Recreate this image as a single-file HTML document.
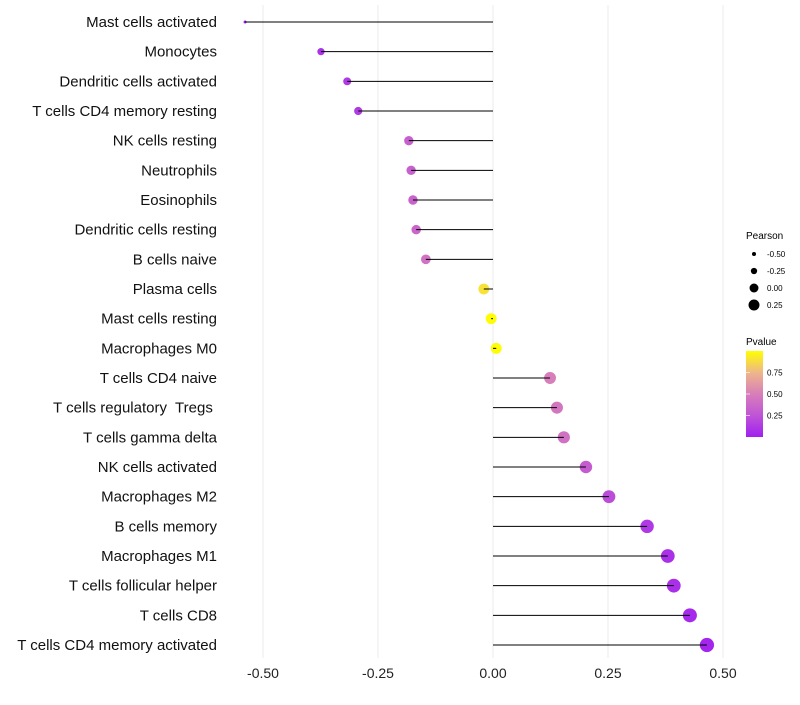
<!DOCTYPE html>
<html><head><meta charset="utf-8"><style>
body{margin:0;background:#fff;font-family:"Liberation Sans",sans-serif}
svg text{font-family:"Liberation Sans",sans-serif}
</style></head><body>
<svg id="chart" width="800" height="700" xmlns="http://www.w3.org/2000/svg">
<defs><linearGradient id="pg" x1="0" y1="1" x2="0" y2="0">
<stop offset="0" stop-color="#a020f0"/><stop offset="0.25" stop-color="#bf54d6"/><stop offset="0.5" stop-color="#d87eba"/><stop offset="0.75" stop-color="#eeb68a"/><stop offset="1" stop-color="#ffff00"/></linearGradient></defs>
<g id="grid"></g><g id="marks"></g><g id="labels"></g><g id="xticks"></g>
<g>
<text x="746" y="239" font-size="10">Pearson</text>
<g id="sizeleg"></g></g>
<g>
<text x="746" y="345" font-size="10">Pvalue</text>
<rect x="746" y="351" width="17" height="86" fill="url(#pg)"/>
<g id="cleg"></g></g>
</svg>
<script>
const categories=["Mast cells activated","Monocytes","Dendritic cells activated","T cells CD4 memory resting","NK cells resting","Neutrophils","Eosinophils","Dendritic cells resting","B cells naive","Plasma cells","Mast cells resting","Macrophages M0","T cells CD4 naive","T cells regulatory  Tregs ","T cells gamma delta","NK cells activated","Macrophages M2","B cells memory","Macrophages M1","T cells follicular helper","T cells CD8","T cells CD4 memory activated"];
const pearson=[-0.539,-0.374,-0.317,-0.293,-0.183,-0.178,-0.174,-0.167,-0.146,-0.020,-0.004,0.007,0.124,0.139,0.154,0.202,0.252,0.335,0.380,0.393,0.428,0.465];
const pvalue=[0.01,0.09,0.12,0.13,0.32,0.33,0.34,0.36,0.42,0.90,0.99,0.99,0.50,0.45,0.42,0.30,0.22,0.12,0.08,0.07,0.05,0.03];
const xTicks=[-0.5,-0.25,0,0.25,0.5];
const xTickLabels=["-0.50","-0.25","0.00","0.25","0.50"];
const sizeLegend=[-0.5,-0.25,0,0.25];
const sizeLegendLabels=["-0.50","-0.25","0.00","0.25"];
const colorTicks=[0.25,0.5,0.75];
const colorTickLabels=["0.25","0.50","0.75"];
const NS="http://www.w3.org/2000/svg";
const x=v=>493+v*460;
const y=i=>22+i*(623/21);
function r(v){
 if(v<-0.4){return 1.5+(v+0.54)/0.14*2.2;}
 return Math.sqrt(Math.max(4,30+45*v));
}
const rl=v=>Math.sqrt(Math.max(4,20+40*v));
const stops=[[0,[160,32,240]],[0.25,[191,84,214]],[0.5,[216,126,186]],[0.75,[238,182,138]],[1,[255,255,0]]];
function col(p){for(let k=1;k<stops.length;k++){if(p<=stops[k][0]){const a=stops[k-1],b=stops[k],t=(p-a[0])/(b[0]-a[0]);return "rgb("+a[1].map((c,j)=>Math.round(c+(b[1][j]-c)*t)).join(",")+")";}}return "rgb(255,255,0)";}
function mk(tag,attrs,parent){const e=document.createElementNS(NS,tag);for(const k in attrs)e.setAttribute(k,attrs[k]);document.getElementById(parent).appendChild(e);return e;}
xTicks.forEach((t,i)=>{
 const g=mk("line",{x1:x(t),x2:x(t),y1:5,y2:658,stroke:"#ebebeb","stroke-width":1},"grid");
 
 
 const tx=mk("text",{x:x(t),y:678,"font-size":14,"text-anchor":"middle",fill:"#222"},"xticks");
 tx.textContent=xTickLabels[i];
 
 
});
categories.forEach((c,i)=>{
 const yy=y(i),v=pearson[i];
 const dot=mk("circle",{cx:x(v),cy:yy,r:r(v),fill:col(pvalue[i])},"marks");
 
 
 const ln=mk("line",{x1:x(0),x2:x(v),y1:yy,y2:yy,stroke:"#000","stroke-width":1},"marks");
 
 
 const t=mk("text",{x:217,y:yy+5,"font-size":15,"text-anchor":"end",fill:"#111",style:"white-space:pre"},"labels");
 t.textContent=c;
 
 
});
sizeLegend.forEach((v,i)=>{
 const yy=254+i*17;
 const d=mk("circle",{cx:754,cy:yy,r:rl(v),fill:"#000"},"sizeleg");
 
 
 const t=mk("text",{x:767,y:yy+3,"font-size":8},"sizeleg");
 t.textContent=sizeLegendLabels[i];
 
 
});
colorTicks.forEach((v,i)=>{
 const yy=437-v*86;
 const t=mk("text",{x:767,y:yy+3,"font-size":8},"cleg");
 t.textContent=colorTickLabels[i];
 
 
 const l=mk("line",{x1:746,x2:750,y1:yy,y2:yy,stroke:"#fff","stroke-width":0.6},"cleg");
 
 
});
</script>
</body></html>
